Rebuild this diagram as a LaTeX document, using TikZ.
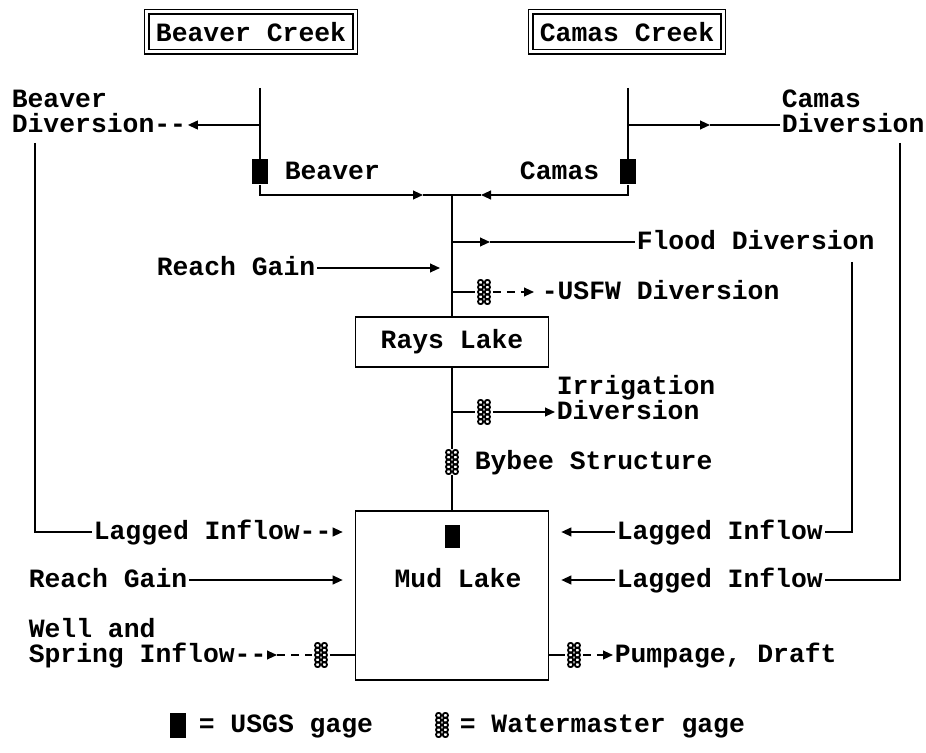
\documentclass[tikz,border=0pt]{standalone}
\usepackage{fontspec}
\setmonofont{Liberation Mono}
\usepackage{tikz}
\usetikzlibrary{positioning,arrows.meta,calc}

\begin{document}
\begin{tikzpicture}[x=0.5pt, y=-0.5pt, line width=0.8pt,
    font=\ttfamily\bfseries\fontsize{13.2}{15}\selectfont,
    >={Triangle[length=5pt,width=4.4pt]}]

    % Define styles
    \tikzstyle{creek} = [rectangle, draw, double, double distance=1.5pt, line width=0.6pt, inner xsep=4.5pt, minimum height=20pt]
    \tikzstyle{lake} = [rectangle, draw, minimum width=96.5pt]
    \tikzstyle{txt} = [anchor=west, inner sep=0.5pt, text height=7.4pt, text depth=0pt]
    \tikzstyle{usgs} = [rectangle, fill=black, inner sep=0pt, minimum width=8pt, minimum height=12.5pt]
    \tikzstyle{wmgage} = [rectangle, inner sep=0pt, minimum width=8pt, minimum height=12.5pt,
        path picture={\foreach \r in {-2,...,2} \foreach \c in {-1,1}
            \draw [line width=0.9pt] ([shift={(\c*1.7pt,\r*2.4pt)}]path picture bounding box.center) circle (1.3pt);}]
    \tikzstyle{flow} = [->]
    \tikzstyle{dashlink} = [dash pattern=on 4pt off 3pt]

    \useasboundingbox (0,0) rectangle (926,753);

    % Creeks
    \node [creek] (beaverck) at (251,32) {Beaver Creek};
    \node [creek] (camasck) at (627,32) {Camas Creek};

    % Branch points
    \coordinate (bvtop) at (260,88);
    \coordinate (bvbranch) at (260,125);
    \coordinate (cmtop) at (628,88);
    \coordinate (cmbranch) at (628,125);
    \coordinate (junc) at (452,195);
    \coordinate (bvin) at (423,195);
    \coordinate (cmin) at (481,195);
    \coordinate (cmarr) at (710,125);
    \coordinate (fdbranch) at (452,242);
    \coordinate (fdarr) at (490,242);
    \coordinate (usbranch) at (452,292);
    \coordinate (irbranch) at (452,412);
    \coordinate (wellarr) at (277,655);
    \coordinate (bvdown) at (35,143);
    \coordinate (fddown) at (852,262);
    \coordinate (cmdown) at (900,143);

    % Upper gages and diversions
    \node [usgs] (bvgage) at (260,172) {};
    \node [usgs] (cmgage) at (628,172) {};
    \node [txt] (bvname) at (283,172) {Beaver};
    \node [txt, anchor=east] (cmname) at (601,172) {Camas};
    \node [txt] (bvdivtop) at (10,100) {Beaver};
    \node [txt] (bvdiv) at (10,125) {Diversion-{}-};
    \node [txt] (cmdivtop) at (780,100) {Camas};
    \node [txt] (cmdiv) at (780,125) {Diversion};
    \node [txt] (flood) at (635,242) {Flood Diversion};
    \node [txt] (gain1) at (155,268) {Reach Gain};
    \node [wmgage] (usgage) at (484,292) {};
    \node [txt] (usfw) at (540,292) {-USFW Diversion};

    % Rays Lake
    \node [lake, minimum height=25pt] (rays) at (452,342) {Rays Lake};
    \node [txt] (irdivtop) at (555,387) {Irrigation};
    \node [txt] (irdiv) at (555,412) {Diversion};
    \node [wmgage] (irgage) at (484,412) {};
    \node [wmgage] (bybee) at (452,462) {};
    \node [txt] (bybeename) at (473,462) {Bybee Structure};

    % Mud Lake
    \node [lake, minimum height=84.5pt] (mud) at (452,595.5) {};
    \node [usgs, minimum width=7.5pt, minimum height=11.5pt] (mudgage) at (452,536) {};
    \node [txt, anchor=center] (mudname) at (458,580) {Mud Lake};
    \node [txt] (lagl) at (92,532) {Lagged Inflow-{}-};
    \node [txt] (gain2) at (27,580) {Reach Gain};
    \node [txt] (welltop) at (27,630) {Well and};
    \node [txt] (well) at (27,655) {Spring Inflow-{}-};
    \node [wmgage] (wlgage) at (321,655) {};
    \node [txt] (lagr1) at (615,532) {Lagged Inflow};
    \node [txt] (lagr2) at (615,580) {Lagged Inflow};
    \node [wmgage] (pmgage) at (574,655) {};
    \node [txt] (pump) at (613,655) {Pumpage, Draft};

    % Key
    \node [usgs] (keyusgs) at (178,725) {};
    \node [txt] (keyusgstxt) at (197,725) {= USGS gage};
    \node [wmgage] (keywm) at (442,725) {};
    \node [txt] (keywmtxt) at (458,725) {= Watermaster gage};

    % Flows
    \draw (bvtop) -- (bvgage);
    \draw [flow] (bvbranch) -- (bvdiv.east);
    \draw [flow] (bvgage) |- (bvin);
    \draw (bvin) -- (junc);
    \draw (cmtop) -- (cmgage);
    \draw [flow] (cmbranch) -- (cmarr);
    \draw (cmarr) -- (cmdiv.west);
    \draw [flow] (cmgage) |- (cmin);
    \draw (cmin) -- (junc);
    \draw (junc) -- (rays);
    \draw [flow] (fdbranch) -- (fdarr);
    \draw (fdarr) -- (flood.west);
    \draw [flow, shorten >=6pt] (gain1.east) -- (junc |- gain1);
    \draw (usbranch) -- (usgage);
    \draw [flow, dashlink, shorten >=3pt] (usgage) -- (usfw.west);
    \draw (rays) -- (bybee);
    \draw (bybee) -- (mud);
    \draw (irbranch) -- (irgage);
    \draw [flow] (irgage) -- (irdiv.west);
    \draw (bvdown) |- (lagl.west);
    \draw [flow, shorten >=6pt] (lagl.east) -- (mud.west |- lagl);
    \draw [flow, shorten >=6pt] (gain2.east) -- (mud.west |- gain2);
    \draw [flow] (well.east) -- (wellarr);
    \draw [dashlink] (wellarr) -- (wlgage);
    \draw (wlgage) -- (mud.west |- wlgage);
    \draw (fddown) |- (lagr1.east);
    \draw [flow, shorten >=6pt] (lagr1.west) -- (mud.east |- lagr1);
    \draw (cmdown) |- (lagr2.east);
    \draw [flow, shorten >=6pt] (lagr2.west) -- (mud.east |- lagr2);
    \draw (mud.east |- pmgage) -- (pmgage);
    \draw [flow, dashlink] (pmgage) -- (pump.west);

\end{tikzpicture}
\end{document}
